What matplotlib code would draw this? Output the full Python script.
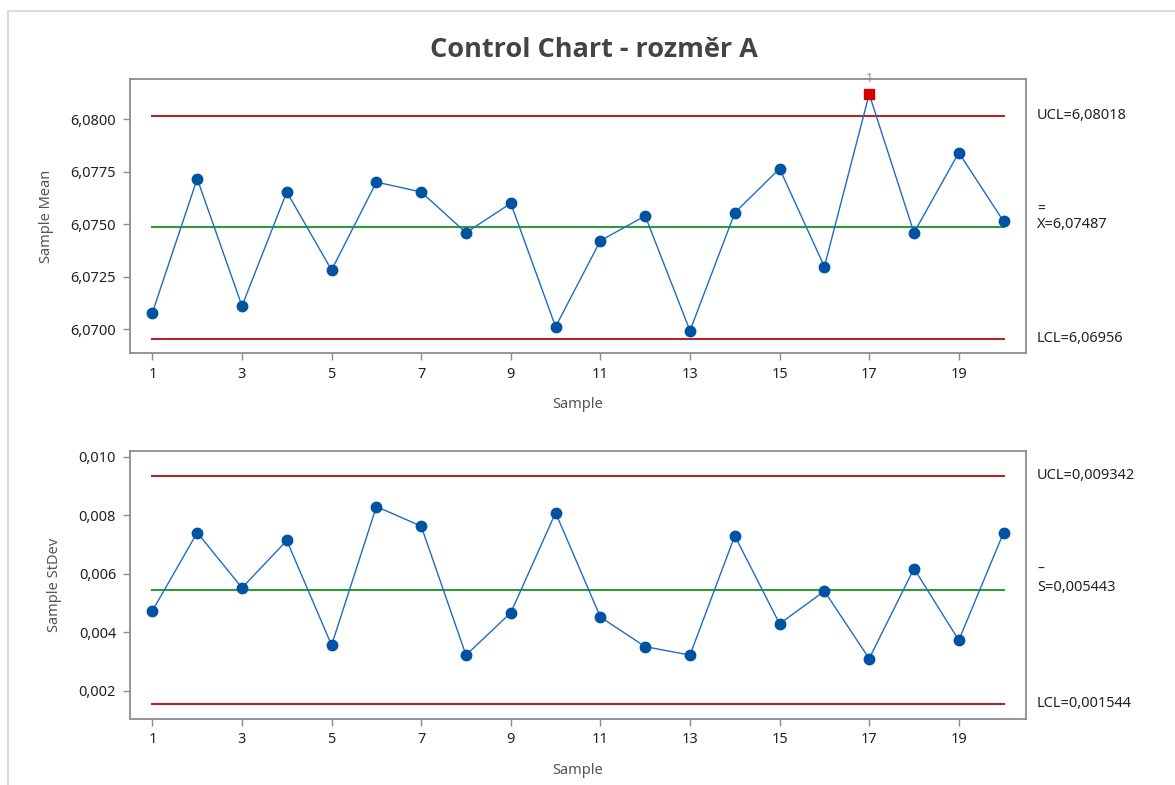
import matplotlib
matplotlib.use("Agg")
import matplotlib.pyplot as plt
from matplotlib.ticker import FuncFormatter, FixedLocator
from matplotlib.lines import Line2D
import numpy as np

plt.rcParams['font.family'] = ['Noto Sans', 'DejaVu Sans']

# sample data
samples = list(range(1, 21))
sample_mean = [6.07079, 6.07717, 6.07111, 6.07654, 6.07282, 6.07701, 6.07654, 6.07460,
               6.07600, 6.07012, 6.07422, 6.07540, 6.06993, 6.07555, 6.07765, 6.07298,
               6.08120, 6.07460, 6.07841, 6.07514]
sample_sd = [0.004725, 0.00740, 0.00551, 0.00713, 0.00355, 0.00829, 0.00762, 0.00321,
             0.00466, 0.00808, 0.00451, 0.00350, 0.00321, 0.00729, 0.00428, 0.00540,
             0.00309, 0.00617, 0.00372, 0.00740]

# control limits
xbar_ucl, xbar_center, xbar_lcl = 6.08018, 6.07487, 6.06956
s_ucl, s_center, s_lcl = 0.009342, 0.005443, 0.001544

xticks = [1, 3, 5, 7, 9, 11, 13, 15, 17, 19]
mean_ticks = [6.0700, 6.0725, 6.0750, 6.0775, 6.0800]
sd_ticks = [0.002, 0.004, 0.006, 0.008, 0.010]

W, H = 1175, 785
fig = plt.figure(figsize=(W / 100, H / 100), dpi=100)
fig.patch.set_facecolor('white')

# light window frame
fig.add_artist(Line2D([8 / W, 8 / W], [0, 1 - 11 / H], transform=fig.transFigure,
                      color='#dcdcdc', lw=1.5))
fig.add_artist(Line2D([8 / W, 1], [1 - 11 / H, 1 - 11 / H], transform=fig.transFigure,
                      color='#dcdcdc', lw=1.5))

fig.text(594 / W, 1 - 50 / H, 'Control Chart - rozměr A', ha='center', va='center',
         fontsize=19.5, fontweight='bold', color='#444444',
         family=['Open Sans', 'DejaVu Sans'])

ax1 = fig.add_axes([130 / W, 1 - 353 / H, 896 / W, 274 / H])
ax2 = fig.add_axes([130 / W, 1 - 718.5 / H, 896 / W, 267.5 / H])

line_blue = '#1f6cc0'
dot_blue = '#0052a3'
red = '#b0262b'
green = '#2e9b3a'


def style_axes(ax, yticks, fmt):
    ax.set_xlim(0.5, 20.5)
    ax.xaxis.set_major_locator(FixedLocator(xticks))
    ax.yaxis.set_major_locator(FixedLocator(yticks))
    ax.yaxis.set_major_formatter(FuncFormatter(lambda v, p: (fmt % v).replace('.', ',')))
    for s in ax.spines.values():
        s.set_color('#8c8c8c')
        s.set_linewidth(1.3)
    ax.tick_params(direction='out', length=5, width=1, color='#8c8c8c',
                   labelsize=10.5, labelcolor='#222222', pad=5)
    ax.set_xlabel('Sample', fontsize=10.5, color='#555555', labelpad=11)


def limit_labels(ax, ucl, center, lcl, ucl_txt, c_txt, lcl_txt, bar, bar_off):
    tr = ax.get_yaxis_transform()
    x0 = 1.0123
    kw = dict(transform=tr, fontsize=10.5, color='#222222', ha='left', va='center')
    ax.text(x0, ucl, ucl_txt, **kw)
    ax.text(x0, lcl, lcl_txt, **kw)
    ax.annotate(c_txt, xy=(x0, center), xycoords=tr, xytext=(0, 2),
                textcoords='offset points', fontsize=10.5, color='#222222',
                ha='left', va='center')
    ax.annotate(bar, xy=(x0, center), xycoords=tr, xytext=(0, bar_off),
                textcoords='offset points', fontsize=10, color='#222222',
                ha='left', va='center')


# Xbar chart
ax1.plot([1, 20], [xbar_ucl, xbar_ucl], color=red, lw=1.5)
ax1.plot([1, 20], [xbar_lcl, xbar_lcl], color=red, lw=1.5)
ax1.plot([1, 20], [xbar_center, xbar_center], color=green, lw=1.5)
ax1.plot(samples, sample_mean, color=line_blue, lw=1.0, zorder=3)
mean_arr = np.array(sample_mean)
x_arr = np.array(samples)
out = mean_arr > xbar_ucl
ax1.plot(x_arr[~out], mean_arr[~out], 'o', color=dot_blue, ms=7.5, zorder=4)
ax1.plot(x_arr[out], mean_arr[out], 's', color='#d40000', ms=7.5, zorder=4)
# test 1 flag above out-of-limit points
for xi, yi in zip(x_arr[out], mean_arr[out]):
    ax1.annotate('1', xy=(xi, yi), xytext=(0, 11), textcoords='offset points',
                 fontsize=9, color='#8a8a8a', ha='center', va='center', zorder=5,
                 annotation_clip=False)
ax1.set_ylim(6.06887, 6.08192)
style_axes(ax1, mean_ticks, '%.4f')
ax1.set_ylabel('Sample Mean', fontsize=10.5, color='#555555', labelpad=12)
limit_labels(ax1, xbar_ucl, xbar_center, xbar_lcl, 'UCL=6,08018', 'X=6,07487',
             'LCL=6,06956', '=', 13)

# S chart
ax2.plot([1, 20], [s_ucl, s_ucl], color=red, lw=1.5)
ax2.plot([1, 20], [s_lcl, s_lcl], color=red, lw=1.5)
ax2.plot([1, 20], [s_center, s_center], color=green, lw=1.5)
ax2.plot(samples, sample_sd, color=line_blue, lw=1.0, zorder=3)
ax2.plot(samples, sample_sd, 'o', color=dot_blue, ms=7.5, zorder=4)
ax2.set_ylim(0.001043, 0.01019)
style_axes(ax2, sd_ticks, '%.3f')
ax2.set_ylabel('Sample StDev', fontsize=10.5, color='#555555', labelpad=12)
limit_labels(ax2, s_ucl, s_center, s_lcl, 'UCL=0,009342', 'S=0,005443',
             'LCL=0,001544', '–', 15)

fig.savefig('out.png', dpi=100, facecolor='white')
